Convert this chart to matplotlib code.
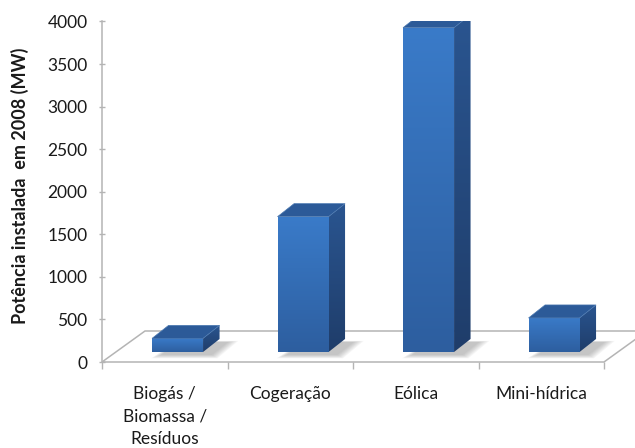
import numpy as np
import matplotlib
matplotlib.use("Agg")
import matplotlib.pyplot as plt
from matplotlib.patches import Polygon
from matplotlib.colors import LinearSegmentedColormap
from matplotlib.ticker import FixedLocator

# Installed capacity by source (MW)
categories = ["Biogás /\nBiomassa /\nResíduos", "Cogeração", "Eólica", "Mini-hídrica"]
capacity_mw = [160, 1590, 3810, 400]
y_ticks = [0, 500, 1000, 1500, 2000, 2500, 3000, 3500, 4000]
y_label = "Potência instalada  em 2008 (MW)"

plt.rcParams["font.family"] = ["Lato", "DejaVu Sans"]

W, H = 635, 448
fig = plt.figure(figsize=(W / 100, H / 100), dpi=100)
fig.patch.set_facecolor("white")

# plot area = front edge of the floor (x) and the value axis (y)
ax = fig.add_axes([102 / W, 86 / H, 502 / W, 340.5 / H])
n = len(categories)
ax.set_xlim(-0.5, n - 0.5)
ax.set_ylim(y_ticks[0], y_ticks[-1])
ax.set_facecolor("none")

# pixel -> data scale factors for the oblique depth offsets
px_x = (n) / 502.0
px_y = (y_ticks[-1] - y_ticks[0]) / 340.5

floor_dx, floor_dy = 43 * px_x, 31 * px_y
bar_base = 10 * px_y
bar_shift = -12.7 * px_x
bar_w = 51 * px_x
bar_dx, bar_dy = 16.5 * px_x, 13 * px_y

grey = "#B4B4B4"

# floor
x_lo, x_hi = -0.5, n - 0.5
floor = Polygon([(x_lo, 0), (x_hi, 0), (x_hi + floor_dx, floor_dy), (x_lo + floor_dx, floor_dy)],
                closed=True, facecolor="white", edgecolor=grey, lw=1.1, zorder=1, clip_on=False)
ax.add_patch(floor)

front_cmap = LinearSegmentedColormap.from_list("front", ["#2D5E9F", "#3A7BC9"])
side_cmap = LinearSegmentedColormap.from_list("side", ["#1F3D6A", "#2A5590"])
grad = np.linspace(0, 1, 256).reshape(-1, 1)

for i, v in enumerate(capacity_mw):
    x0 = i + bar_shift
    x1 = x0 + bar_w
    yb = bar_base
    yt = yb + v

    # soft shadow on the floor
    for k in range(7):
        g = (6 - k) * 0.9
        sx, sy = 9 * px_x, -3 * px_y
        shadow = Polygon([(x0 + sx - g * px_x * 1.8, yb + sy - g * px_y * 0.6),
                          (x1 + sx + g * px_x, yb + sy - g * px_y * 0.6),
                          (x1 + bar_dx + sx + g * px_x * 1.8, yb + bar_dy + sy + g * px_y * 0.2),
                          (x0 + bar_dx + sx, yb + bar_dy + sy + g * px_y * 0.2)],
                         closed=True, facecolor="#707070", edgecolor="none",
                         alpha=0.065, zorder=2, clip_on=False)
        ax.add_patch(shadow)

    # front face
    front = Polygon([(x0, yb), (x1, yb), (x1, yt), (x0, yt)], closed=True,
                    facecolor="none", edgecolor="none", zorder=3)
    ax.add_patch(front)
    im = ax.imshow(grad, extent=[x0, x1, yb, yt], origin="lower", cmap=front_cmap,
                   aspect="auto", interpolation="bilinear", zorder=3)
    im.set_clip_path(front)

    # right side face
    side = Polygon([(x1, yb), (x1 + bar_dx, yb + bar_dy), (x1 + bar_dx, yt + bar_dy), (x1, yt)],
                   closed=True, facecolor="none", edgecolor="none", zorder=3)
    ax.add_patch(side)
    im2 = ax.imshow(grad, extent=[x1, x1 + bar_dx, yb, yt + bar_dy], origin="lower",
                    cmap=side_cmap, aspect="auto", interpolation="bilinear", zorder=3)
    im2.set_clip_path(side)

    # top face
    top = Polygon([(x0, yt), (x1, yt), (x1 + bar_dx, yt + bar_dy), (x0 + bar_dx, yt + bar_dy)],
                  closed=True, facecolor="#2C5A98", edgecolor="#4A78B0", lw=0.5, zorder=4)
    ax.add_patch(top)

ax.set_xlim(-0.5, n - 0.5)
ax.set_ylim(y_ticks[0], y_ticks[-1])

# axes styling
for s in ["top", "right", "bottom"]:
    ax.spines[s].set_visible(False)
ax.spines["left"].set_color(grey)
ax.spines["left"].set_linewidth(1.1)

ax.set_yticks(y_ticks)
ax.set_yticklabels([str(t) for t in y_ticks])
ax.tick_params(axis="y", direction="inout", length=5, width=1, color=grey,
               labelsize=12.5, pad=8, labelcolor="#1A1A1A")

ax.xaxis.set_major_locator(FixedLocator([k - 0.5 for k in range(n + 1)]))
ax.xaxis.set_minor_locator(FixedLocator(list(range(n))))
ax.xaxis.set_major_formatter(plt.NullFormatter())
ax.set_xticklabels(categories, minor=True)
ax.tick_params(axis="x", which="major", direction="out", length=5, width=1, color=grey)
ax.tick_params(axis="x", which="minor", length=0, labelsize=12.5, pad=17, labelcolor="#1A1A1A")
for lab in ax.get_xticklabels(minor=True):
    lab.set_linespacing(1.5)

fig.text(20 / W, 1 - 186 / H, y_label, rotation=90, ha="center", va="center",
         fontsize=13, fontweight="bold", color="#1A1A1A")

fig.savefig("out.png", dpi=100, facecolor="white")
